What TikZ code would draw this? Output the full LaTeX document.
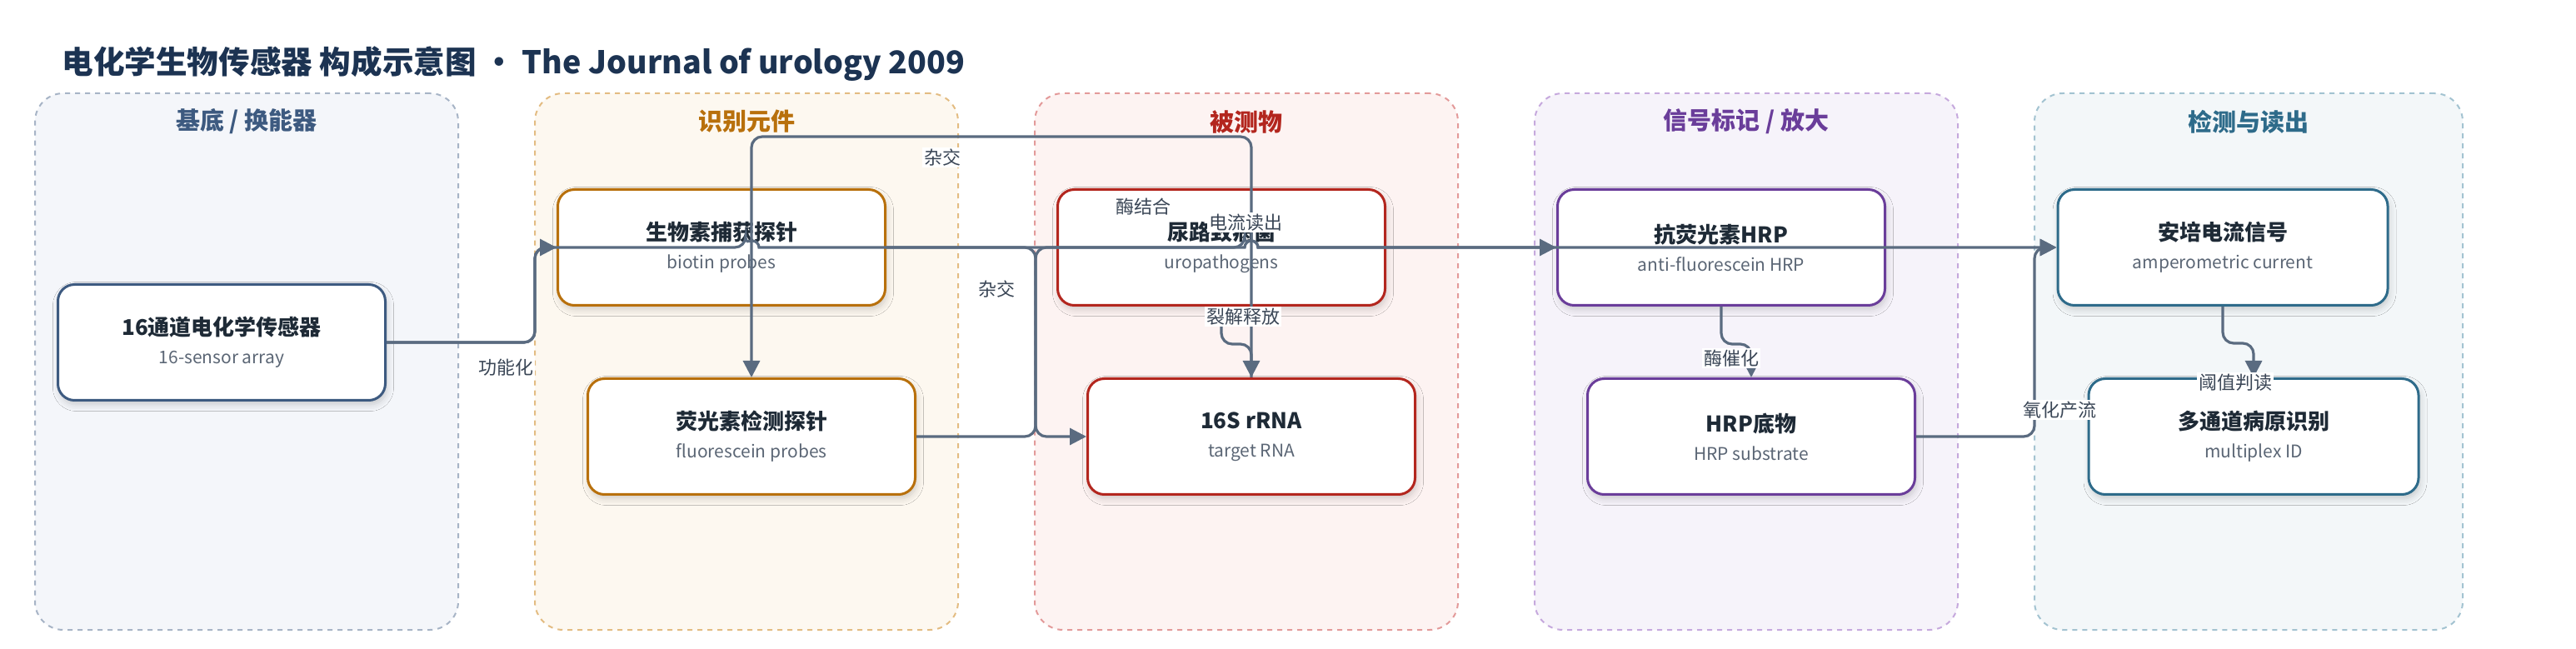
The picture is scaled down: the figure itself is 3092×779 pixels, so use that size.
\documentclass[tikz,border=0pt]{standalone}
\usepackage{fontspec}
\setmainfont{Noto Sans CJK SC}
\usepackage{tikz}
\usetikzlibrary{arrows.meta,shadows.blur}
\definecolor{ttl}{HTML}{1C3352}
\definecolor{edge}{HTML}{5A6B80}
\definecolor{lbltxt}{HTML}{3A4656}
\definecolor{boxtxt}{HTML}{1E2A36}
\definecolor{subtxt}{HTML}{5B6675}
\definecolor{subDark}{HTML}{3D5A80}
\definecolor{subLine}{HTML}{A7B4C6}
\definecolor{subBg}{HTML}{F4F6FA}
\definecolor{recDark}{HTML}{B8700C}
\definecolor{recLine}{HTML}{E3BC82}
\definecolor{recBg}{HTML}{FDF8F0}
\definecolor{anaDark}{HTML}{B3261E}
\definecolor{anaLine}{HTML}{E39A9A}
\definecolor{anaBg}{HTML}{FDF3F2}
\definecolor{sigDark}{HTML}{6A3D9A}
\definecolor{sigLine}{HTML}{C6A9DD}
\definecolor{sigBg}{HTML}{F6F3FA}
\definecolor{detDark}{HTML}{2E6B8A}
\definecolor{detLine}{HTML}{A3C3D1}
\definecolor{detBg}{HTML}{F3F7F9}

\begin{document}
\begin{tikzpicture}[x=0.5pt,y=-0.5pt,
  grp/.style={dash pattern=on 3pt off 3pt,line width=1pt,rounded corners=17pt,minimum width=254pt,minimum height=322pt},
  gtitle/.style={font=\bfseries\fontsize{14.5}{17}\selectfont},
  box/.style={draw,fill=white,line width=1.5pt,rounded corners=10pt,minimum width=196.5pt,minimum height=69.5pt,align=center,
    text=boxtxt,font=\bfseries\fontsize{13}{17}\selectfont,
    blur shadow={shadow xshift=1pt,shadow yshift=-2.5pt,shadow blur radius=4pt,shadow opacity=18}},
  arr/.style={draw=edge,line width=1.6pt,rounded corners=6.5pt,-{Triangle[length=10pt,width=10pt]}},
  lbl/.style={fill=white,inner sep=1pt,text=lbltxt,font=\fontsize{11}{13}\selectfont}
]
\fill[white] (0,0) rectangle (3092,779);
\useasboundingbox (0,0) rectangle (3092,779);

% Title
\node[anchor=west,text=ttl,inner sep=0pt,font=\bfseries\fontsize{18.8}{22}\selectfont] (title) at (74,77)
  {电化学生物传感器 构成示意图 · The Journal of urology 2009};

% Groups
\node[grp,draw=subLine,fill=subBg] (gsub) at (296,434)  {};
\node[grp,draw=recLine,fill=recBg] (grec) at (896,434)  {};
\node[grp,draw=anaLine,fill=anaBg] (gana) at (1496,434) {};
\node[grp,draw=sigLine,fill=sigBg] (gsig) at (2096,434) {};
\node[grp,draw=detLine,fill=detBg,minimum width=257pt] (gdet) at (2699,434) {};
\node[gtitle,text=subDark] (tsub) at (296,146)  {基底 / 换能器};
\node[gtitle,text=recDark] (trec) at (896,146)  {识别元件};
\node[gtitle,text=anaDark] (tana) at (1496,146) {被测物};
\node[gtitle,text=sigDark] (tsig) at (2096,146) {信号标记 / 放大};
\node[gtitle,text=detDark] (tdet) at (2699,146) {检测与读出};

% Components
\newcommand{\sublabel}[1]{{\color{subtxt}\mdseries\fontsize{10.5}{17}\selectfont #1}}
\node[box,draw=subDark] (sensor) at (266,411)  {16通道电化学传感器\\\sublabel{16-sensor array}};
\node[box,draw=recDark] (biotin) at (866,297)  {生物素捕获探针\\\sublabel{biotin probes}};
\node[box,draw=recDark] (fluo)   at (902,524)  {荧光素检测探针\\\sublabel{fluorescein probes}};
\node[box,draw=anaDark] (uro)    at (1466,297) {尿路致病菌\\\sublabel{uropathogens}};
\node[box,draw=anaDark] (target) at (1502,524) {16S rRNA\\\sublabel{target RNA}};
\node[box,draw=sigDark] (ahrp)   at (2066,297) {抗荧光素HRP\\\sublabel{anti-fluorescein HRP}};
\node[box,draw=sigDark] (hrpsub) at (2102,524) {HRP底物\\\sublabel{HRP substrate}};
\node[box,draw=detDark,minimum width=198pt] (amp)   at (2668,297) {安培电流信号\\\sublabel{amperometric current}};
\node[box,draw=detDark,minimum width=198pt] (multi) at (2705,524) {多通道病原识别\\\sublabel{multiplex ID}};

% Connectors
\draw[arr] (sensor.east) -| (642,297) -- (biotin.west);
\draw[arr] (sensor.east) -| (642,297) -- (895,297) [sharp corners] arc[start angle=180,end angle=360,radius=8]
  -- (1494,297) arc[start angle=180,end angle=360,radius=8] -- (amp.west);
\draw[arr] (biotin.east) -- (1243,297) -- (1243,524) -- (target.west);
\draw[arr] (fluo.east) -- (1243,524) -- (1243,297) -- (1494,297) [sharp corners]
  arc[start angle=180,end angle=360,radius=8] -- (ahrp.west);
\draw[arr] (target.north) -- (1502,164) -- (902,164) -- (fluo.north);
\draw[arr] (uro.south) -- (1466,413) -- (1502,413) -- (target.north);
\draw[arr] (ahrp.south) -- (2066,413) -- (2102,413) -- (hrpsub.north);
\draw[arr] (hrpsub.east) -- (2442,524) -- (2442,297) -- (amp.west);
\draw[arr] (amp.south) -- (2668,412) -- (2705,412) -- (multi.north);

% Connector labels
\node[lbl] (lfunc) at (607,441)  {功能化};
\node[lbl] (lhyb1) at (1131,189) {杂交};
\node[lbl] (lhyb2) at (1196,347) {杂交};
\node[lbl] (lenz)  at (1372,248) {酶结合};
\node[lbl] (lread) at (1495,267) {电流读出};
\node[lbl] (llys)  at (1492,380) {裂解释放};
\node[lbl] (lcat)  at (2078,430) {酶催化};
\node[lbl] (lox)   at (2472,492) {氧化产流};
\node[lbl] (lthr)  at (2683,459) {阈值判读};
\end{tikzpicture}
\end{document}
